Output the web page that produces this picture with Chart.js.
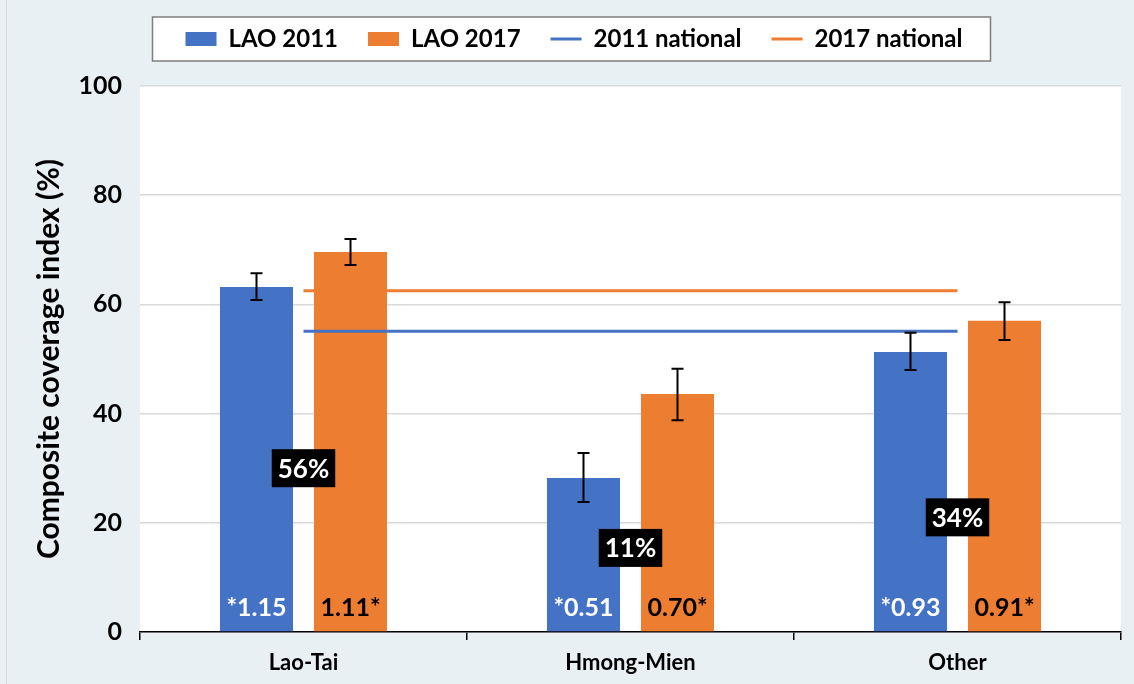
<!DOCTYPE html>
<html>
<head>
<meta charset="utf-8">
<script src="https://cdn.jsdelivr.net/npm/chart.js@4/dist/chart.umd.min.js"></script>
<style>
  html, body { margin: 0; padding: 0; background: #e9f0f3; }
  #wrap { width: 1134px; height: 684px; position: relative; }
</style>
</head>
<body>
<div id="wrap"><canvas id="chart" width="1134" height="684"></canvas></div>
<script>
// data
const groups = ['Lao-Tai', 'Hmong-Mien', 'Other'];
const lao2011 = [63.2, 28.2, 51.3];
const lao2017 = [69.6, 43.6, 57.0];
const err2011Low = [60.8, 23.8, 48.0];
const err2011High = [65.7, 32.8, 54.8];
const err2017Low = [67.2, 38.8, 53.5];
const err2017High = [72.0, 48.2, 60.4];
const national2011 = [55.1, 55.1, 55.1];
const national2017 = [62.5, 62.5, 62.5];
const ratio2011 = ['*1.15', '*0.51', '*0.93'];
const ratio2017 = ['1.11*', '0.70*', '0.91*'];
const shareLabels = ['56%', '11%', '34%'];
const yTicks = [0, 20, 40, 60, 80, 100];

const BLUE = '#4472c4';
const ORANGE = '#ed7d31';
const FONT = 'Lato, "Open Sans", sans-serif';

// where the black boxes and ratio texts sit (in axis units)
const shareY = [30, 15.4, 21];
const ratioY = 4.4;

// background, white plot area
const bgPlugin = {
  id: 'bg',
  beforeDraw(chart) {
    const { ctx, chartArea: a } = chart;
    ctx.save();
    ctx.fillStyle = '#e9f0f3';
    ctx.fillRect(0, 0, chart.width, chart.height);
    ctx.strokeStyle = '#d3d9dc';
    ctx.lineWidth = 1;
    ctx.beginPath();
    ctx.moveTo(6.5, 0); ctx.lineTo(6.5, chart.height);
    ctx.stroke();
    ctx.fillStyle = '#ffffff';
    ctx.fillRect(a.left, a.top, a.right - a.left, a.bottom - a.top);
    ctx.restore();
  }
};

// white box with border around legend
const legendBox = {
  id: 'legendBox',
  beforeDatasetsDraw(chart) {
    const boxes = chart.legend.legendHitBoxes;
    if (!boxes || !boxes.length) return;
    const ctx = chart.ctx;
    let l = Infinity, r = -Infinity, t = Infinity, b = -Infinity;
    boxes.forEach(h => {
      l = Math.min(l, h.left); r = Math.max(r, h.left + h.width);
      t = Math.min(t, h.top); b = Math.max(b, h.top + h.height);
    });
    ctx.save();
    ctx.fillStyle = '#ffffff';
    ctx.strokeStyle = '#7f7f7f';
    ctx.lineWidth = 1.5;
    ctx.beginPath();
    ctx.rect(l - 33, t - 10, r - l + 61, b - t + 20);
    ctx.fill();
    ctx.stroke();
    ctx.restore();
    chart.legend.draw();
  }
};

// error bars and value labels
const marksPlugin = {
  id: 'marks',
  afterDatasetsDraw(chart) {
    const ctx = chart.ctx;
    const y = chart.scales.y;
    const x = chart.scales.x;
    const lows = [err2011Low, err2017Low];
    const highs = [err2011High, err2017High];
    ctx.save();
    [0, 1].forEach(di => {
      const meta = chart.getDatasetMeta(di);
      meta.data.forEach((bar, i) => {
        const y1 = y.getPixelForValue(lows[di][i]);
        const y2 = y.getPixelForValue(highs[di][i]);
        ctx.strokeStyle = '#000';
        ctx.lineWidth = 2;
        ctx.beginPath();
        ctx.moveTo(bar.x, y1); ctx.lineTo(bar.x, y2);
        ctx.moveTo(bar.x - 6, y1); ctx.lineTo(bar.x + 6, y1);
        ctx.moveTo(bar.x - 6, y2); ctx.lineTo(bar.x + 6, y2);
        ctx.stroke();

        ctx.font = 'bold 25px ' + FONT;
        ctx.textAlign = 'center';
        ctx.textBaseline = 'middle';
        ctx.fillStyle = di === 0 ? '#ffffff' : '#000000';
        ctx.fillText(di === 0 ? ratio2011[i] : ratio2017[i], bar.x, y.getPixelForValue(ratioY));
      });
    });
    // black boxes with share text
    shareLabels.forEach((txt, i) => {
      const cx = x.getPixelForValue(i);
      const cy = y.getPixelForValue(shareY[i]);
      ctx.font = 'bold 26px ' + FONT;
      const w = ctx.measureText(txt).width + 12;
      ctx.fillStyle = '#000';
      ctx.fillRect(cx - w / 2, cy - 19, w, 38);
      ctx.fillStyle = '#fff';
      ctx.textAlign = 'center';
      ctx.textBaseline = 'middle';
      ctx.fillText(txt, cx, cy + 1);
    });
    ctx.restore();
  }
};

new Chart(document.getElementById('chart'), {
  type: 'bar',
  data: {
    labels: groups,
    datasets: [
      { label: 'LAO 2011', data: lao2011, backgroundColor: BLUE, borderWidth: 0, pointStyle: 'rect', order: 1,
        categoryPercentage: 0.575, barPercentage: 0.777 },
      { label: 'LAO 2017', data: lao2017, backgroundColor: ORANGE, borderWidth: 0, pointStyle: 'rect', order: 1,
        categoryPercentage: 0.575, barPercentage: 0.777 },
      { type: 'line', label: '2011 national', data: national2011, borderColor: BLUE, backgroundColor: BLUE,
        borderWidth: 3, pointRadius: 0, pointStyle: 'line', order: 0 },
      { type: 'line', label: '2017 national', data: national2017, borderColor: ORANGE, backgroundColor: ORANGE,
        borderWidth: 3, pointRadius: 0, pointStyle: 'line', order: 0 }
    ]
  },
  options: {
    responsive: false,
    animation: false,
    layout: { padding: { left: 27, right: 13, top: -3, bottom: 0 } },
    plugins: {
      tooltip: { enabled: false },
      legend: {
        position: 'top',
        labels: {
          usePointStyle: true,
          pointStyleWidth: 31,
          boxHeight: 14,
          padding: 30,
          color: '#000',
          font: { family: FONT, size: 24, weight: 'bold' },
          sort: (a, b) => a.datasetIndex - b.datasetIndex
        }
      }
    },
    scales: {
      x: {
        grid: { offset: true, drawOnChartArea: false, drawTicks: true, tickLength: 8, color: '#000', lineWidth: 1.5 },
        border: { display: true, color: '#000', width: 1.5 },
        ticks: { color: '#000', padding: 10, font: { family: FONT, size: 22, weight: 'bold' } },
        afterFit(scale) { scale.height = 52; }
      },
      // empty band between legend and plot
      gap: {
        axis: 'x',
        position: 'top',
        grid: { display: false },
        border: { display: false },
        ticks: { display: false },
        afterFit(scale) { scale.height = 25; }
      },
      y: {
        min: 0,
        max: 100,
        afterBuildTicks(scale) { scale.ticks = yTicks.map(v => ({ value: v })); },
        grid: { color: '#d9d9d9', lineWidth: 1.5, drawTicks: false },
        border: { display: false },
        ticks: { color: '#000', padding: 18, font: { family: FONT, size: 25, weight: 'bold' } },
        title: { display: true, text: 'Composite coverage index (%)', color: '#000', padding: 4,
                 font: { family: FONT, size: 30, weight: 'bold' } },
        afterFit(scale) { scale.width = 113; }
      }
    }
  },
  plugins: [bgPlugin, legendBox, marksPlugin]
});
</script>
</body>
</html>
